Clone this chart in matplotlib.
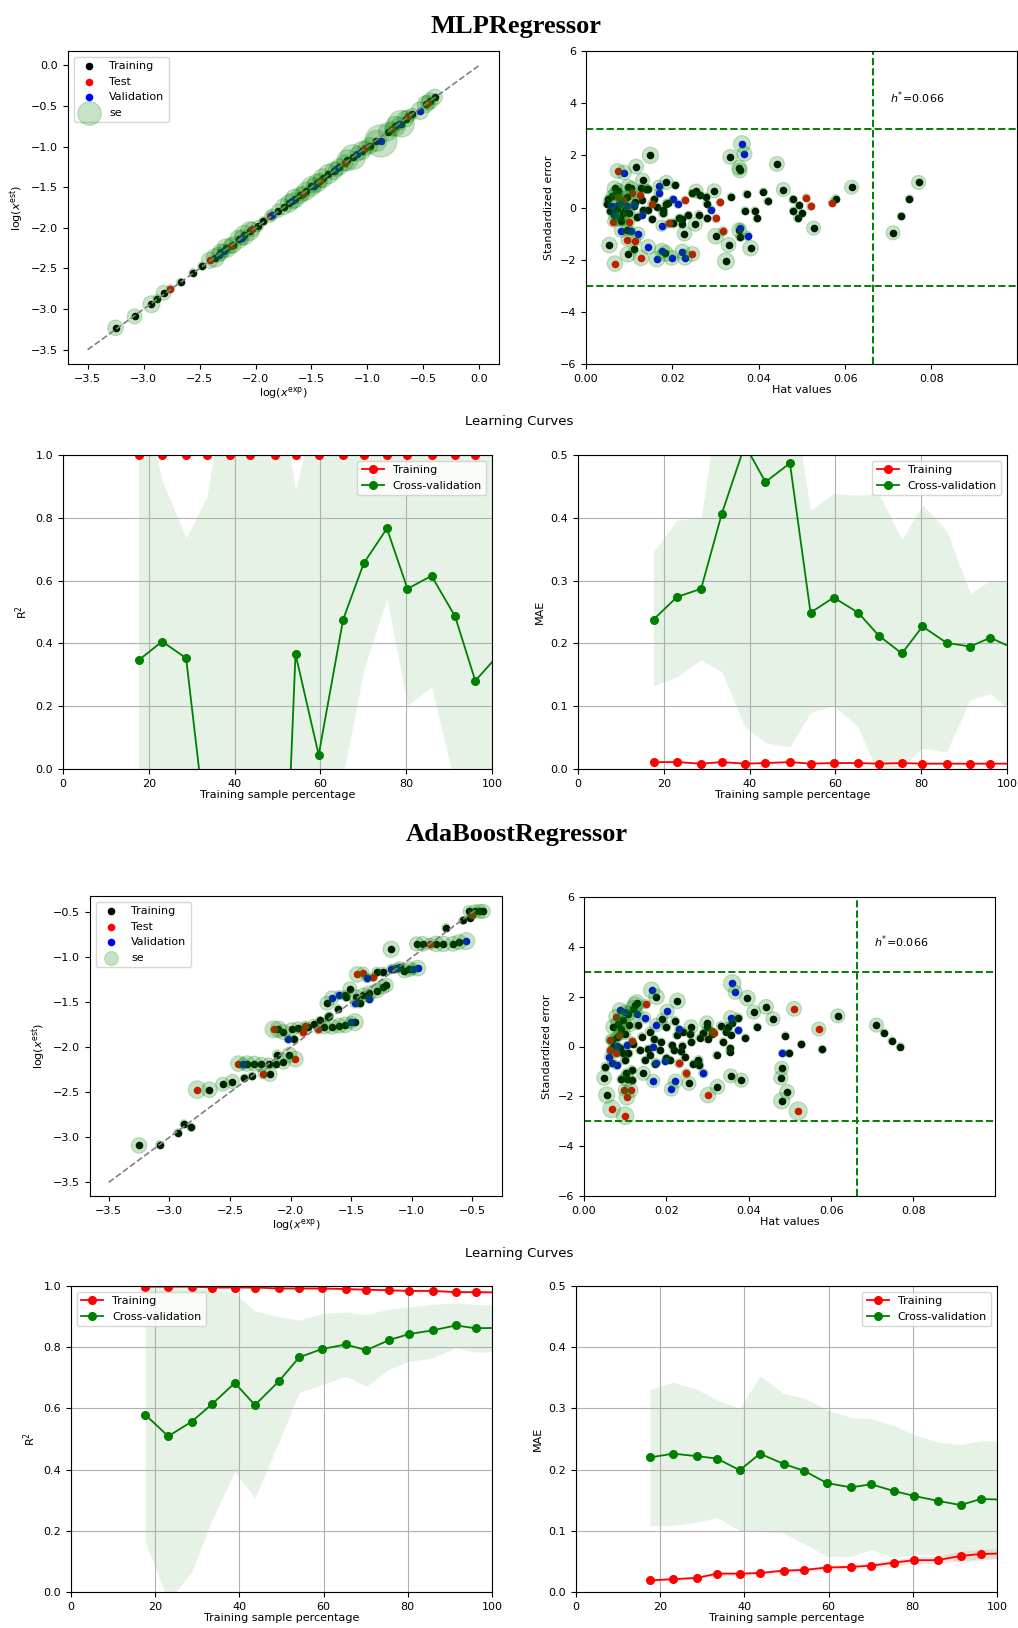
import matplotlib
matplotlib.use("Agg")
import matplotlib.pyplot as plt

plt.rcParams['font.family'] = ['DejaVu Sans']
plt.rcParams['font.size'] = 8

# ---------------- data ----------------
# MLP: experimental vs estimated (x, y, se bubble)
mlp_sc_train = [(-3.25,-3.23,110),(-3.08,-3.09,100),(-2.93,-2.94,130),(-2.88,-2.87,20),(-2.82,-2.80,100),
    (-2.67,-2.67,20),(-2.56,-2.55,20),(-2.48,-2.47,20),(-2.36,-2.37,150),(-2.31,-2.30,120),(-2.26,-2.25,160),
    (-2.20,-2.21,120),(-2.15,-2.14,150),(-2.10,-2.09,170),(-2.05,-2.04,160),(-1.98,-1.98,60),(-1.93,-1.92,40),
    (-1.80,-1.79,80),(-1.75,-1.74,120),(-1.70,-1.70,140),(-1.65,-1.64,160),(-1.60,-1.60,120),(-1.55,-1.55,150),
    (-1.50,-1.49,170),(-1.45,-1.45,150),(-1.40,-1.39,160),(-1.35,-1.34,170),(-1.30,-1.30,140),(-1.25,-1.25,120),
    (-1.18,-1.17,200),(-1.13,-1.13,280),(-1.05,-1.05,150),(-0.98,-0.99,120),(-0.92,-0.93,200),(-0.82,-0.82,150),
    (-0.75,-0.75,180),(-0.70,-0.72,320),(-0.66,-0.66,120),(-0.60,-0.60,60),(-0.48,-0.48,130),(-0.44,-0.44,120),
    (-0.40,-0.39,110)]
mlp_sc_test = [(-2.76,-2.75,20),(-2.41,-2.40,120),(-2.22,-2.22,100),(-2.03,-2.02,100),(-1.87,-1.86,60),
    (-1.58,-1.58,100),(-1.42,-1.42,100),(-1.20,-1.20,120),(-1.02,-1.02,100),(-0.78,-0.78,100),(-0.64,-0.63,80),
    (-0.46,-0.46,100)]
mlp_sc_val = [(-0.88,-0.93,470),(-0.53,-0.56,140),(-1.85,-1.84,60),(-2.33,-2.33,100),(-2.12,-2.12,100),
    (-1.67,-1.67,120),(-1.48,-1.48,100),(-1.28,-1.28,100),(-1.09,-1.09,100),(-0.72,-0.72,80),(-2.28,-2.28,80)]
mlp_line = [-3.5, 0.0]

# MLP: Williams plot (hat, standardized error, se bubble)
mlp_hat_train = [(0.0052,0.31,40),(0.0048,0.15,20),(0.0056,-0.13,20),(0.0054,-1.44,110),(0.0097,-1.79,110),
    (0.0110,-1.61,40),(0.0116,1.57,100),(0.0149,2.0,120),(0.0131,1.05,90),(0.0127,0.73,40),(0.0143,0.70,40),
    (0.0066,0.73,100),(0.0070,0.54,100),(0.0097,0.79,100),(0.0086,-0.23,100),(0.0079,-0.42,100),(0.0071,-0.04,40),
    (0.0090,-0.10,40),(0.0096,-0.87,60),(0.0119,-0.36,40),(0.0133,-0.10,20),(0.0144,-0.10,20),(0.0114,0.22,40),
    (0.0129,0.28,20),(0.0153,-0.45,20),(0.0140,0.72,40),(0.0158,0.31,20),(0.0164,0.03,20),(0.0178,-0.10,40),
    (0.0179,-0.23,40),(0.0184,-1.76,110),(0.0186,0.96,90),(0.0185,0.15,20),(0.0190,0.18,20),(0.0202,-0.61,40),
    (0.0207,0.86,20),(0.0216,-0.40,20),(0.0222,-0.43,20),(0.0222,-0.64,20),(0.0228,-1.0,100),(0.0237,-0.29,20),
    (0.0246,0.54,20),(0.0255,0.63,90),(0.0253,-0.64,90),(0.0261,-0.27,20),(0.0264,0.47,20),(0.0280,0.15,20),
    (0.0278,0.41,20),(0.0280,-0.42,20),(0.0297,0.64,90),(0.0300,-1.10,110),(0.0324,-2.06,130),(0.0330,-1.43,100),
    (0.0334,1.94,100),(0.0336,0.41,20),(0.0355,1.53,100),(0.0356,1.42,100),(0.0355,-0.87,100),(0.0357,-1.12,40),
    (0.0368,-0.13,20),(0.0372,0.51,20),(0.0381,-1.56,110),(0.0391,-0.13,20),(0.0396,-0.42,20),(0.0411,0.60,20),
    (0.0421,0.24,20),(0.0442,1.67,100),(0.0457,0.69,90),(0.0479,0.31,20),(0.0480,-0.13,20),(0.0493,0.08,20),
    (0.0490,-0.42,20),(0.0500,-0.23,20),(0.0527,-0.79,90),(0.0578,0.34,20),(0.0615,0.78,90),(0.0711,-0.97,90),
    (0.0730,-0.34,20),(0.0749,0.33,20),(0.0770,0.96,90),(0.0060,0.45,60),(0.0075,0.65,90),(0.0085,0.25,60),
    (0.0095,0.40,80),(0.0105,0.75,80),(0.0065,-0.30,60),(0.0080,-0.50,60),(0.0100,-0.20,60),(0.0110,0.05,40),
    (0.0075,0.10,40)]
mlp_hat_test = [(0.0067,-2.15,110),(0.0073,1.40,100),(0.0127,-1.93,110),(0.0246,-1.78,100),(0.0317,-0.91,40),
    (0.0300,-0.42,20),(0.0510,0.37,20),(0.0520,0.05,20),(0.0570,0.19,20),(0.0094,-1.25,60),(0.0114,-1.29,60),
    (0.0100,-0.54,60),(0.0063,-0.54,60),(0.0106,0.54,60),(0.0124,0.47,40),(0.0073,0.41,60),(0.0086,0.28,60),
    (0.0152,0.15,20),(0.0193,-0.61,40),(0.0229,0.28,20),(0.0310,0.20,20)]
mlp_hat_val = [(0.0088,1.34,100),(0.0144,-1.51,100),(0.0164,-1.98,110),(0.0176,-1.66,100),(0.0198,-1.93,100),
    (0.0223,-1.69,100),(0.0229,-1.93,100),(0.0361,2.43,130),(0.0367,2.06,100),(0.0290,-0.08,20),(0.0357,-0.78,40),
    (0.0374,-1.09,40),(0.0212,0.13,20),(0.0201,0.31,20),(0.0175,-0.70,60),(0.0168,0.83,60),(0.0168,0.54,40),
    (0.0130,-0.28,20),(0.0121,-1.0,80),(0.0104,-0.89,40),(0.0081,-0.89,80),(0.0068,-0.29,40),(0.0060,0.06,20),
    (0.0079,0.15,20),(0.0096,0.06,20),(0.0110,0.09,20)]

# AdaBoost: experimental vs estimated
ada_sc_train = [(-3.25,-3.09,110),(-3.08,-3.08,20),(-2.93,-2.95,20),(-2.88,-2.85,20),(-2.82,-2.89,20),
    (-2.67,-2.47,110),(-2.56,-2.41,90),(-2.48,-2.38,90),(-2.38,-2.34,20),(-2.32,-2.32,20),(-2.17,-2.30,90),
    (-2.36,-2.18,110),(-2.30,-2.18,100),(-2.24,-2.19,90),(-2.18,-2.18,60),(-2.12,-2.18,40),(-2.06,-2.16,100),
    (-2.11,-2.08,40),(-2.01,-2.08,100),(-1.97,-1.91,20),(-2.10,-1.80,120),(-2.06,-1.83,100),(-1.99,-1.80,80),
    (-1.94,-1.78,60),(-1.86,-1.77,40),(-1.81,-1.74,40),(-1.76,-1.70,20),(-1.69,-1.66,20),(-1.72,-1.77,90),
    (-1.66,-1.77,100),(-1.60,-1.76,100),(-1.55,-1.75,110),(-1.47,-1.72,130),(-1.68,-1.65,20),(-1.61,-1.57,20),
    (-1.70,-1.51,90),(-1.55,-1.42,40),(-1.51,-1.35,90),(-1.54,-1.44,40),(-1.43,-1.51,40),(-1.46,-1.44,90),
    (-1.40,-1.42,90),(-1.35,-1.40,100),(-1.29,-1.37,100),(-1.24,-1.33,90),(-1.21,-1.31,90),(-1.29,-1.16,40),
    (-1.24,-1.16,40),(-1.10,-1.11,60),(-1.06,-1.15,90),(-1.02,-1.13,100),(-1.17,-0.91,120),(-0.96,-0.85,90),
    (-0.91,-0.85,100),(-0.80,-0.85,110),(-0.74,-0.85,110),(-0.66,-0.85,100),(-0.61,-0.83,100),(-0.72,-0.67,20),
    (-0.58,-0.59,20),(-0.52,-0.56,20),(-0.53,-0.49,60),(-0.48,-0.49,80),(-0.44,-0.49,90),(-0.41,-0.49,90)]
ada_sc_test = [(-2.77,-2.47,140),(-2.43,-2.18,110),(-2.23,-2.30,40),(-1.96,-2.13,110),(-2.14,-1.80,130),
    (-1.90,-1.83,40),(-1.77,-1.80,40),(-1.45,-1.19,110),(-1.40,-1.17,60),(-1.32,-1.22,40),(-0.85,-0.85,60),
    (-0.50,-0.53,20),(-1.15,-1.13,40),(-1.88,-1.76,40)]
ada_sc_val = [(-2.39,-2.18,60),(-2.02,-1.91,20),(-1.66,-1.45,90),(-1.60,-1.42,40),(-1.47,-1.51,40),
    (-1.37,-1.23,40),(-1.17,-1.13,40),(-0.99,-1.13,60),(-0.95,-1.12,110),(-0.55,-0.82,130),(-1.50,-1.72,60),
    (-1.35,-1.46,40),(-1.12,-1.12,40)]
ada_line = [-3.5, -0.47]

# AdaBoost: Williams plot
ada_hat_train = [(0.0710,0.86,90),(0.0729,0.55,20),(0.0748,0.23,20),(0.0768,-0.01,20),(0.0616,1.23,90),
    (0.0578,-0.12,20),(0.0528,0.09,20),(0.0498,-0.27,20),(0.0489,0.43,20),(0.0480,-0.88,90),(0.0478,-1.26,90),
    (0.0493,-1.82,100),(0.0480,-2.18,120),(0.0459,1.11,90),(0.0442,1.59,100),(0.0421,0.78,20),(0.0412,1.38,90),
    (0.0397,1.94,110),(0.0392,0.35,20),(0.0382,-1.35,90),(0.0374,1.15,40),(0.0356,-1.18,90),(0.0356,0.48,20),
    (0.0354,-0.08,20),(0.0354,-0.21,20),(0.0350,0.79,40),(0.0338,0.19,20),(0.0332,0.82,40),(0.0324,-1.62,100),
    (0.0322,-0.35,20),(0.0298,0.95,90),(0.0299,0.79,40),(0.0281,0.36,20),(0.0278,-0.55,40),(0.0280,-0.75,40),
    (0.0260,0.79,90),(0.0258,0.52,40),(0.0261,0.19,20),(0.0255,-1.48,90),(0.0239,0.03,20),(0.0245,-0.43,20),
    (0.0227,1.83,110),(0.0221,1.02,40),(0.0218,-0.15,20),(0.0213,0.05,20),(0.0209,-0.55,20),(0.0187,0.19,20),
    (0.0184,-0.15,20),(0.0176,1.99,110),(0.0144,-1.08,90),(0.0148,-0.55,20),(0.0128,1.75,120),(0.0055,-1.95,120),
    (0.0049,-1.26,100),(0.0052,-0.82,40),(0.0104,-1.31,100),(0.0091,-1.31,40),(0.0116,-1.35,40),(0.0116,-0.95,40),
    (0.0102,-1.08,40),(0.0071,0.79,100),(0.0083,0.92,100),(0.0095,1.06,100),(0.0108,1.32,100),(0.0120,1.52,120),
    (0.0124,1.66,120),(0.0068,0.25,60),(0.0071,-0.01,40),(0.0087,-0.08,40),(0.0095,-0.28,40),(0.0099,-0.55,40),
    (0.0108,-0.28,40),(0.0130,0.85,40),(0.0140,0.40,20),(0.0160,0.60,40),(0.0170,0.30,20),(0.0155,-0.10,20),
    (0.0135,-0.15,20),(0.0120,0.10,20),(0.0100,0.50,60),(0.0090,0.70,80),(0.0080,0.40,60),(0.0110,0.85,80),
    (0.0190,1.10,60),(0.0200,0.80,40),(0.0225,0.45,20),(0.0240,0.60,20),(0.0235,-0.20,20),(0.0265,-0.70,20),
    (0.0290,0.55,20),(0.0300,0.30,20),(0.0310,0.50,20),(0.0345,0.60,20),(0.0360,0.95,20),(0.0200,-0.45,20),
    (0.0172,-0.70,20),(0.0160,-0.35,20)]
ada_hat_test = [(0.0570,0.70,90),(0.0510,1.51,100),(0.0520,-2.59,150),(0.0315,0.56,20),(0.0310,0.61,20),
    (0.0301,-1.95,110),(0.0248,-1.08,40),(0.0231,-0.68,40),(0.0150,1.70,40),(0.0117,0.23,20),(0.0113,-1.75,100),
    (0.0104,-2.04,110),(0.0097,-1.75,60),(0.00995,-2.78,140),(0.0067,-2.51,140),(0.0063,-0.15,20),(0.0063,0.28,40),
    (0.0078,-0.28,40),(0.0078,1.19,100),(0.0084,0.45,60)]
ada_hat_val = [(0.0482,-0.27,20),(0.0375,0.65,20),(0.0360,2.53,140),(0.0367,2.18,90),(0.0356,1.16,90),
    (0.0290,-1.08,40),(0.0230,0.69,20),(0.0222,-1.39,90),(0.0212,-1.71,90),(0.0202,1.42,90),(0.0197,-0.59,20),
    (0.0175,0.86,80),(0.0175,-0.65,40),(0.0168,-1.38,80),(0.0164,2.26,120),(0.0168,-0.01,20),(0.0148,1.16,60),
    (0.0061,-0.41,40),(0.0068,-0.65,40),(0.0079,-0.75,40),(0.0081,0.03,20),(0.0104,0.05,20),(0.0087,1.46,100),
    (0.0099,1.39,80),(0.0128,1.32,80)]

h_star = 0.0664

# Learning curves
lc_x = [17.6, 23.1, 28.7, 33.5, 38.9, 43.7, 49.4, 54.2, 59.6, 65.3, 70.1, 75.5, 80.3, 85.9, 91.4, 96.1, 101.3]

mlp_r2_train = [1.0, 1.0, 1.0, 1.0, 1.0, 1.0, 1.0, 1.0, 1.0, 1.0, 1.0, 1.0, 1.0, 1.0, 1.0, 1.0, 1.0]
mlp_r2_cv = [0.346, 0.406, 0.353, -0.21, -0.9, -1.6, -1.23, 0.366, 0.045, 0.476, 0.655, 0.766, 0.574, 0.615, 0.486, 0.281, 0.36]
mlp_r2_cv_hi = [1.25, 0.92, 0.736, 0.865, 1.3, 1.5, 1.3, 0.888, 1.2, 0.975, 1.1, 1.05, 1.05, 1.05, 1.1, 1.1, 1.05]
mlp_r2_cv_lo = [-0.6, -0.3, -0.1, -1.3, -2.5, -3.0, -3.0, -0.3, -1.1, -0.02, 0.315, 0.543, 0.203, 0.261, -0.05, -0.5, -0.3]

mlp_mae_train = [0.011, 0.011, 0.0085, 0.011, 0.0085, 0.0095, 0.011, 0.0085, 0.0095, 0.0095, 0.0085, 0.0095, 0.0085, 0.0085, 0.0085, 0.0085, 0.0085]
mlp_mae_train_lo = [0.010, 0.010, 0.0078, 0.010, 0.0078, 0.0088, 0.010, 0.0078, 0.0088, 0.0088, 0.0078, 0.0088, 0.0078, 0.0078, 0.0078, 0.0078, 0.0078]
mlp_mae_train_hi = [0.012, 0.012, 0.0092, 0.012, 0.0092, 0.0102, 0.012, 0.0092, 0.0102, 0.0102, 0.0092, 0.0102, 0.0092, 0.0092, 0.0092, 0.0092, 0.0092]
mlp_mae_cv = [0.238, 0.274, 0.287, 0.406, 0.516, 0.457, 0.487, 0.249, 0.273, 0.249, 0.2125, 0.184, 0.227, 0.201, 0.195, 0.209, 0.193]
mlp_mae_cv_hi = [0.346, 0.396, 0.40, 0.62, 0.80, 0.75, 0.62, 0.412, 0.439, 0.436, 0.439, 0.365, 0.421, 0.38, 0.28, 0.30, 0.30]
mlp_mae_cv_lo = [0.132, 0.147, 0.174, 0.155, 0.067, 0.042, 0.035, 0.090, 0.101, 0.067, -0.01, 0.003, 0.033, 0.027, 0.11, 0.12, 0.09]

ada_r2_train = [0.998, 0.998, 0.998, 0.995, 0.995, 0.995, 0.992, 0.992, 0.992, 0.990, 0.988, 0.986, 0.984, 0.984, 0.980, 0.980, 0.979]
ada_r2_train_lo = [0.996, 0.996, 0.996, 0.992, 0.992, 0.992, 0.989, 0.989, 0.988, 0.986, 0.984, 0.982, 0.979, 0.979, 0.975, 0.975, 0.974]
ada_r2_train_hi = [1.0, 1.0, 1.0, 0.998, 0.998, 0.998, 0.995, 0.995, 0.996, 0.994, 0.992, 0.990, 0.989, 0.989, 0.985, 0.985, 0.984]
ada_r2_cv = [0.580, 0.509, 0.557, 0.614, 0.683, 0.611, 0.689, 0.767, 0.794, 0.809, 0.790, 0.823, 0.843, 0.855, 0.871, 0.862, 0.863]
ada_r2_cv_hi = [1.0, 1.0, 0.995, 0.99, 0.975, 0.918, 0.90, 0.888, 0.91, 0.915, 0.907, 0.924, 0.931, 0.94, 0.945, 0.939, 0.937]
ada_r2_cv_lo = [0.165, -0.03, 0.067, 0.236, 0.394, 0.307, 0.492, 0.651, 0.678, 0.705, 0.672, 0.727, 0.754, 0.765, 0.798, 0.784, 0.785]

ada_mae_train = [0.019, 0.021, 0.023, 0.030, 0.030, 0.031, 0.035, 0.036, 0.040, 0.041, 0.043, 0.048, 0.052, 0.052, 0.059, 0.062, 0.063]
ada_mae_train_lo = [0.017, 0.019, 0.021, 0.027, 0.027, 0.028, 0.032, 0.033, 0.036, 0.037, 0.039, 0.043, 0.046, 0.046, 0.051, 0.054, 0.055]
ada_mae_train_hi = [0.021, 0.023, 0.025, 0.033, 0.033, 0.034, 0.038, 0.039, 0.044, 0.045, 0.047, 0.053, 0.058, 0.058, 0.067, 0.070, 0.071]
ada_mae_cv = [0.220, 0.226, 0.222, 0.218, 0.199, 0.226, 0.209, 0.198, 0.178, 0.171, 0.176, 0.165, 0.157, 0.149, 0.142, 0.152, 0.151]
ada_mae_cv_hi = [0.331, 0.343, 0.331, 0.314, 0.300, 0.353, 0.324, 0.317, 0.298, 0.285, 0.283, 0.272, 0.257, 0.245, 0.241, 0.247, 0.246]
ada_mae_cv_lo = [0.108, 0.109, 0.114, 0.122, 0.100, 0.099, 0.096, 0.079, 0.058, 0.058, 0.069, 0.056, 0.061, 0.061, 0.047, 0.052, 0.055]

# ---------------- figure ----------------
W, H = 1018, 1628
fig = plt.figure(figsize=(W / 100, H / 100), dpi=100)


def box(l, t, r, b):
    return fig.add_axes([l / W, 1 - b / H, (r - l) / W, (b - t) / H])


def points(ax, tr, te, va):
    for pts, col, lab in [(tr, 'black', 'Training'), (te, 'red', 'Test'), (va, 'blue', 'Validation')]:
        x, y, _ = zip(*pts)
        ax.scatter(x, y, s=30, color=col, label=lab, zorder=2, linewidths=0)
    x, y, s = zip(*(tr + te + va))
    s = [max(v, 30) * 1.15 for v in s]
    ax.scatter(x, y, s=s, color='green', alpha=0.22, label='se', zorder=3, linewidths=0.8)


def scatter_panel(ax, tr, te, va, line, ticks_x, ticks_y):
    points(ax, tr, te, va)
    ax.plot(line, line, '--', color='gray', lw=1.2, zorder=4)
    ax.set_xticks(ticks_x)
    ax.set_yticks(ticks_y)
    ax.set_xlabel(r'log($x^{\mathrm{exp}}$)', labelpad=1)
    ax.set_ylabel(r'log($x^{\mathrm{est}}$)')
    ax.legend(loc='upper left', fontsize=8, scatterpoints=1)


def hat_panel(ax, tr, te, va):
    points(ax, tr, te, va)
    ax.axvline(h_star, color='green', ls='--', lw=1.4)
    ax.axhline(3, color='green', ls='--', lw=1.4)
    ax.axhline(-3, color='green', ls='--', lw=1.4)
    ax.set_xlim(0, 0.0998)
    ax.set_ylim(-6, 6)
    ax.set_xticks([0.00, 0.02, 0.04, 0.06, 0.08])
    ax.set_yticks([-6, -4, -2, 0, 2, 4, 6])
    ax.text(0.0703, 4.2, r'$h^{*}$=' + f'{h_star:.3f}', va='center', ha='left', fontsize=8)
    ax.set_xlabel('Hat values', labelpad=1)
    ax.set_ylabel('Standardized error')


def lc_panel(ax, tr, tr_lo, tr_hi, cv, cv_lo, cv_hi, ylabel, ytop, yticks, loc):
    ax.grid(True)
    ax.fill_between(lc_x, tr_lo, tr_hi, color='r', alpha=0.1, linewidth=0)
    ax.fill_between(lc_x, cv_lo, cv_hi, color='g', alpha=0.1, linewidth=0)
    ax.plot(lc_x, tr, 'o-', color='r', ms=5.5, lw=1.3, label='Training')
    ax.plot(lc_x, cv, 'o-', color='g', ms=5.5, lw=1.3, label='Cross-validation')
    ax.set_xlim(0, 100)
    ax.set_ylim(0, ytop)
    ax.set_xticks([0, 20, 40, 60, 80, 100])
    ax.set_yticks(yticks)
    ax.set_xlabel('Training sample percentage', labelpad=1)
    ax.set_ylabel(ylabel)
    ax.legend(loc=loc, fontsize=8)


# Titles
fig.text(516 / W, 1 - 26 / H, 'MLPRegressor', ha='center', va='center', fontsize=19,
         fontweight='bold', family='Liberation Serif')
fig.text(517 / W, 1 - 834 / H, 'AdaBoostRegressor', ha='center', va='center', fontsize=19,
         fontweight='bold', family='Liberation Serif')
fig.text(519 / W, 1 - 421 / H, 'Learning Curves', ha='center', va='center', fontsize=9.5)
fig.text(519 / W, 1 - 1253 / H, 'Learning Curves', ha='center', va='center', fontsize=9.5)

r2_ticks = [0.0, 0.2, 0.4, 0.6, 0.8, 1.0]
mae_ticks = [0.0, 0.1, 0.2, 0.3, 0.4, 0.5]

# MLP
ax = box(68, 51, 499, 364)
scatter_panel(ax, mlp_sc_train, mlp_sc_test, mlp_sc_val, mlp_line,
              [-3.5, -3.0, -2.5, -2.0, -1.5, -1.0, -0.5, 0.0],
              [-3.5, -3.0, -2.5, -2.0, -1.5, -1.0, -0.5, 0.0])
ax = box(586, 51, 1017, 364)
hat_panel(ax, mlp_hat_train, mlp_hat_test, mlp_hat_val)
ax = box(63, 455, 492, 769)
lc_panel(ax, mlp_r2_train, mlp_r2_train, mlp_r2_train, mlp_r2_cv, mlp_r2_cv_lo, mlp_r2_cv_hi,
         'R$^2$', 1.0, r2_ticks, 'upper right')
ax = box(578, 455, 1007, 769)
lc_panel(ax, mlp_mae_train, mlp_mae_train_lo, mlp_mae_train_hi, mlp_mae_cv, mlp_mae_cv_lo, mlp_mae_cv_hi,
         'MAE', 0.5, mae_ticks, 'upper right')

# AdaBoost
ax = box(90, 896, 502, 1196)
scatter_panel(ax, ada_sc_train, ada_sc_test, ada_sc_val, ada_line,
              [-3.5, -3.0, -2.5, -2.0, -1.5, -1.0, -0.5],
              [-3.5, -3.0, -2.5, -2.0, -1.5, -1.0, -0.5])
ax = box(584, 897, 995, 1196)
hat_panel(ax, ada_hat_train, ada_hat_test, ada_hat_val)
ax = box(71, 1286, 492, 1592)
lc_panel(ax, ada_r2_train, ada_r2_train_lo, ada_r2_train_hi, ada_r2_cv, ada_r2_cv_lo, ada_r2_cv_hi,
         'R$^2$', 1.0, r2_ticks, 'upper left')
ax = box(576, 1286, 997, 1592)
lc_panel(ax, ada_mae_train, ada_mae_train_lo, ada_mae_train_hi, ada_mae_cv, ada_mae_cv_lo, ada_mae_cv_hi,
         'MAE', 0.5, mae_ticks, 'upper right')

fig.savefig('out.png', dpi=100)
